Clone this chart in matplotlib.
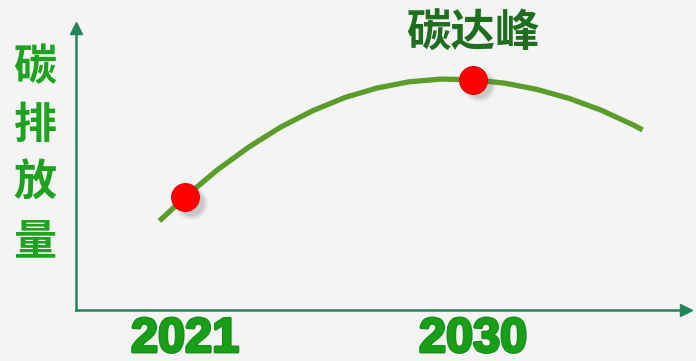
import matplotlib
matplotlib.use("Agg")
import matplotlib.pyplot as plt
import matplotlib.transforms as mtransforms
import matplotlib.patheffects as pe

# Emission trajectory (index, 2030 level = 100)
years = [2020.2, 2021, 2022, 2023, 2024, 2025, 2026, 2027, 2028, 2029,
         2030, 2031, 2032, 2033, 2034, 2035, 2035.3]
emissions = [38.7, 49.1, 60.8, 70.9, 79.6, 86.7, 92.4, 96.5, 99.2, 100.4,
             100.1, 98.6, 95.9, 92.0, 86.9, 80.5, 78.3]

# Highlighted milestones
key_years = [2021, 2030]
key_values = [49.1, 100.1]
tick_labels = ["2021", "2030"]
peak_label = "碳达峰"
y_label_chars = ["碳", "排", "放", "量"]

W, H = 696, 361
fig = plt.figure(figsize=(W / 100, H / 100), dpi=100)
fig.patch.set_facecolor("#f4f4f4")

# axis box from the origin to the arrowheads
left, bottom, right, top = 76, 310, 686, 28
ax = fig.add_axes([left / W, (H - bottom) / H, (right - left) / W, (bottom - top) / H])
ax.set_facecolor("none")
ax.set_xlim(2017.594, 2036.656)
ax.set_ylim(0, 122.6)

axis_color = "#23855c"
for s in ("top", "right"):
    ax.spines[s].set_visible(False)
for s in ("left", "bottom"):
    ax.spines[s].set_color(axis_color)
    ax.spines[s].set_linewidth(1.8)
ax.set_yticks([])
ax.plot(1, 0, ">", transform=ax.transAxes, color=axis_color, markersize=8, clip_on=False)
ax.plot(0, 1, "^", transform=ax.transAxes, color=axis_color, markersize=8, clip_on=False)

ax.set_xticks(key_years)
ax.set_xticklabels(tick_labels)
ax.tick_params(axis="x", length=0, pad=5)
for lab in ax.get_xticklabels():
    lab.set_fontfamily("Liberation Sans")
    lab.set_fontweight("bold")
    lab.set_fontsize(35)
    lab.set_color("#17a017")
    lab.set_path_effects([pe.Stroke(linewidth=2.2, foreground="#1b8f1b"), pe.Normal()])

# emission curve
ax.plot(years, emissions, color="#5b9c2a", linewidth=3.8,
        solid_capstyle="butt", solid_joinstyle="round", zorder=3)

# soft drop shadows under the milestone dots
for a, s in [(0.05, 24), (0.06, 22), (0.08, 20), (0.10, 18)]:
    tr = mtransforms.offset_copy(ax.transData, fig=fig, x=4, y=-4, units="points")
    ax.plot(key_years, key_values, "o", markersize=s, color="#555555",
            alpha=a, markeredgewidth=0, transform=tr, zorder=4)

ax.plot(key_years, key_values, "o", markersize=20, color="#ff0000",
        markeredgecolor="#e00000", markeredgewidth=0.8, zorder=5)

ax.text(2030, 120.0, peak_label, ha="center", va="center", fontsize=32,
        fontweight="bold", color="#1f6e1f",
        family=["Noto Sans CJK SC", "DejaVu Sans"])

# vertical axis title, one character per line
for ch, yc in zip(y_label_chars, [67, 125, 183, 241]):
    fig.text(35 / W, 1 - yc / H, ch, ha="center", va="center", fontsize=31,
             fontweight="bold", color="#1fa21f",
             family=["Noto Sans CJK SC", "DejaVu Sans"])

fig.savefig("out.png", dpi=100, facecolor=fig.get_facecolor())
